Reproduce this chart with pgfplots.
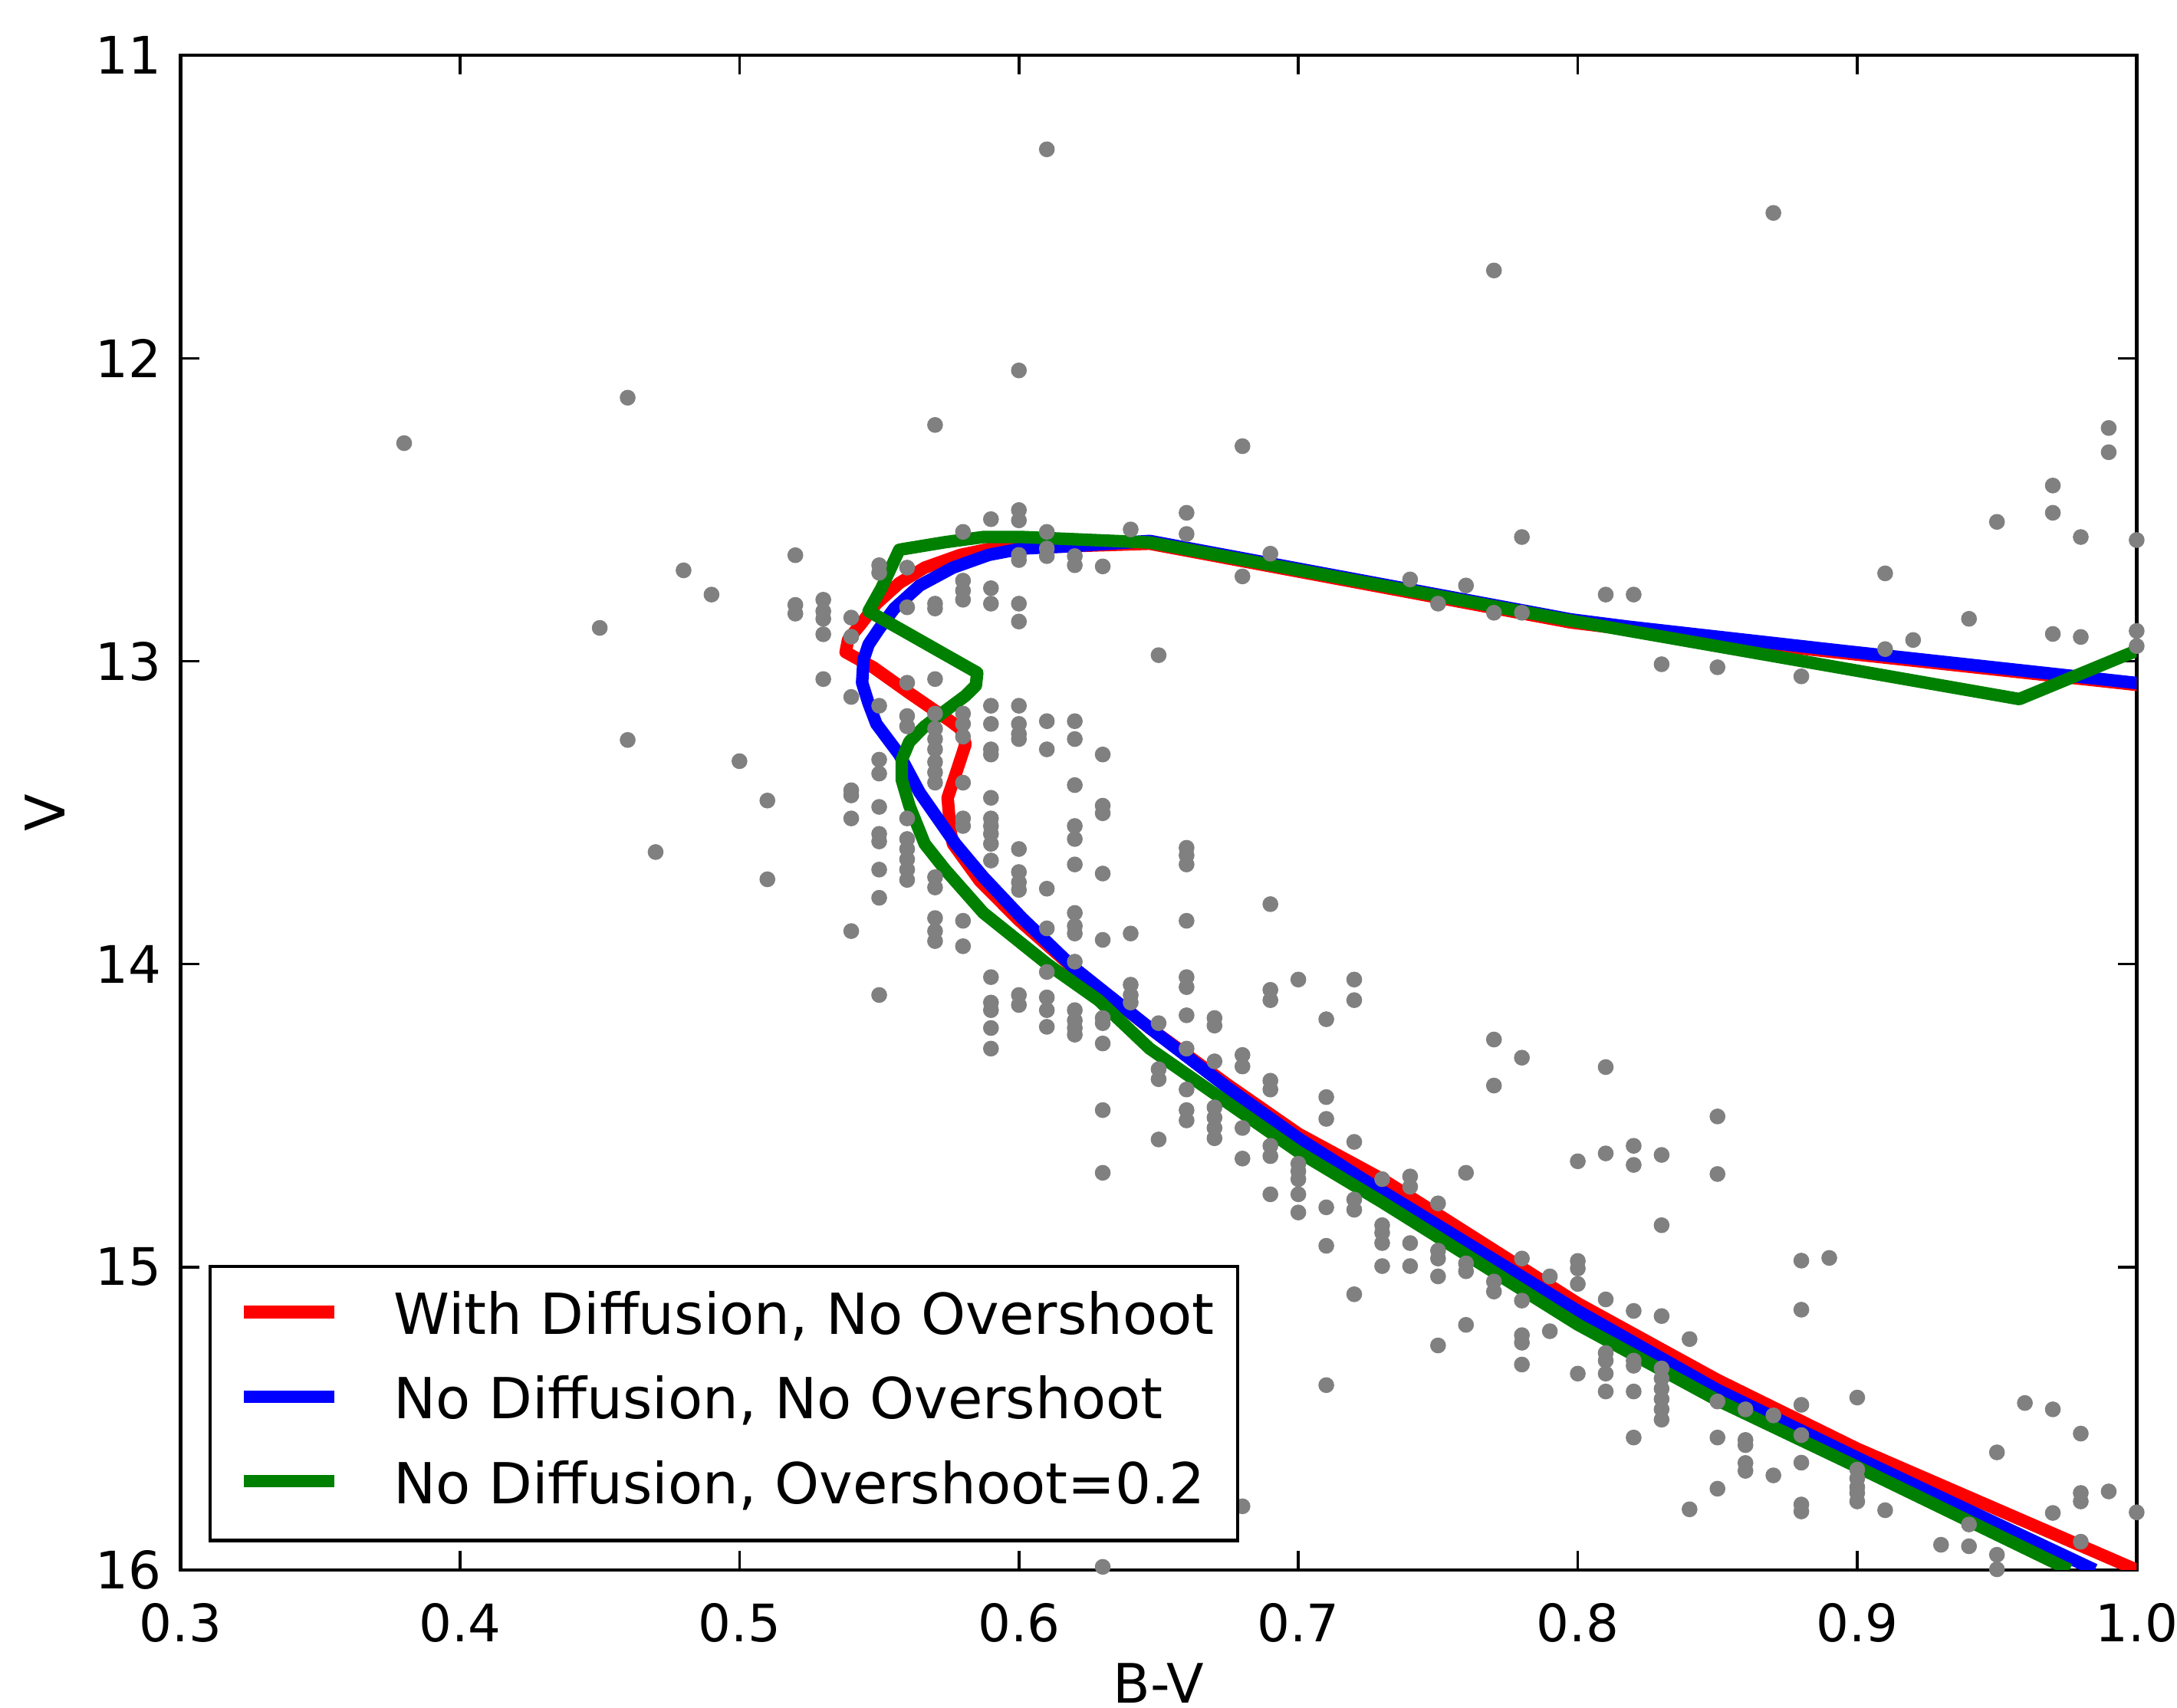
\documentclass[border=0pt]{standalone}
\usepackage{fontspec}
\setmainfont{DejaVu Sans}
\usepackage{pgfplots}
\pgfplotsset{compat=1.18}
\usetikzlibrary{calc}
\definecolor{mred}{RGB}{255,0,0}
\definecolor{mblue}{RGB}{0,0,255}
\definecolor{mgreen}{RGB}{0,128,0}
\definecolor{mgray}{RGB}{128,128,128}

% observed stars (B-V, V)
\pgfplotstableread{
bv v
0.61 11.31
0.87 11.52
0.77 11.71
0.38 12.28
0.46 12.13
0.60 12.04
0.57 12.22
0.68 12.29
0.99 12.23
0.99 12.31
0.97 12.42
0.97 12.51
0.95 12.54
0.98 12.59
1.00 12.60
0.78 12.59
0.66 12.51
0.66 12.58
0.52 12.65
0.48 12.70
0.49 12.78
0.45 12.89
0.91 12.71
0.91 12.96
0.92 12.93
0.94 12.86
0.97 12.91
0.98 12.92
1.00 12.90
1.00 12.95
0.81 12.78
0.82 12.78
0.83 13.01
0.85 13.02
0.88 13.05
0.65 12.98
0.46 13.26
0.50 13.33
0.51 13.46
0.47 13.63
0.51 13.72
0.68 12.72
0.69 12.645
0.74 12.73
0.75 12.81
0.76 12.75
0.77 12.84
0.78 12.84
0.64 12.565
0.52 12.814
0.52 12.843
0.53 12.797
0.53 12.835
0.53 12.860
0.53 12.911
0.53 13.059
0.54 12.856
0.54 12.919
0.54 13.118
0.54 13.426
0.54 13.443
0.54 13.519
0.55 12.683
0.55 12.708
0.55 13.147
0.55 13.325
0.55 13.371
0.55 13.481
0.55 13.570
0.55 13.595
0.56 12.691
0.56 12.822
0.56 13.071
0.56 13.181
0.56 13.215
0.56 13.519
0.56 13.587
0.57 12.810
0.57 12.826
0.57 13.059
0.57 13.173
0.57 13.223
0.57 13.257
0.57 13.291
0.57 13.333
0.57 13.367
0.57 13.401
0.58 12.573
0.58 12.734
0.58 12.767
0.58 12.797
0.58 13.173
0.58 13.207
0.58 13.249
0.58 13.401
0.58 13.519
0.58 13.544
0.59 12.531
0.59 12.759
0.59 12.810
0.59 13.147
0.59 13.207
0.59 13.291
0.59 13.308
0.59 13.451
0.59 13.519
0.59 13.544
0.59 13.570
0.60 12.501
0.60 12.535
0.60 12.649
0.60 12.666
0.60 12.810
0.60 12.869
0.60 13.147
0.60 13.207
0.60 13.240
0.60 13.257
0.61 12.573
0.61 12.628
0.61 12.653
0.61 13.198
0.61 13.291
0.62 12.653
0.62 12.683
0.62 13.198
0.62 13.257
0.62 13.409
0.62 13.544
0.62 13.587
0.63 12.687
0.63 13.308
0.63 13.477
0.63 13.502
0.54 13.891
0.55 13.688
0.55 13.781
0.55 14.102
0.56 13.620
0.56 13.654
0.56 13.688
0.56 13.722
0.57 13.713
0.57 13.747
0.57 13.848
0.57 13.891
0.57 13.924
0.58 13.857
0.58 13.941
0.59 13.603
0.59 13.658
0.59 14.043
0.59 14.127
0.59 14.152
0.59 14.211
0.59 14.279
0.60 13.620
0.60 13.696
0.60 13.730
0.60 13.755
0.60 14.102
0.60 14.135
0.61 13.751
0.61 13.882
0.61 14.026
0.61 14.110
0.61 14.152
0.61 14.207
0.62 13.671
0.62 13.831
0.62 13.874
0.62 13.899
0.62 13.992
0.62 14.152
0.62 14.186
0.62 14.211
0.62 14.233
0.63 13.701
0.63 13.920
0.63 14.178
0.63 14.195
0.63 14.262
0.63 14.482
0.63 14.689
0.64 13.899
0.64 14.068
0.64 14.102
0.64 14.127
0.65 14.195
0.65 14.347
0.65 14.380
0.65 14.579
0.66 13.616
0.66 13.641
0.66 13.671
0.66 13.857
0.66 14.043
0.66 14.076
0.66 14.169
0.66 14.279
0.66 14.414
0.66 14.482
0.66 14.516
0.67 14.178
0.67 14.203
0.67 14.321
0.67 14.473
0.67 14.507
0.67 14.541
0.67 14.575
0.68 14.300
0.68 14.338
0.68 14.541
0.68 14.642
0.69 13.802
0.69 14.085
0.69 14.119
0.69 14.385
0.69 14.414
0.69 14.600
0.69 14.634
0.69 14.760
0.70 14.051
0.70 14.659
0.70 14.684
0.70 14.710
0.70 14.760
0.70 14.820
0.71 14.182
0.71 14.439
0.71 14.511
0.71 14.803
0.72 14.051
0.72 14.119
0.72 14.587
0.72 14.777
0.72 14.811
0.73 14.710
0.77 14.249
0.77 14.401
0.78 14.309
0.73 14.862
0.73 14.887
0.73 14.921
0.73 14.997
0.74 14.701
0.74 14.735
0.74 14.921
0.74 14.997
0.75 14.790
0.75 14.946
0.75 14.972
0.75 15.031
0.75 15.259
0.76 14.689
0.76 14.988
0.76 15.014
0.76 15.191
0.77 15.048
0.77 15.081
0.78 14.972
0.78 15.111
0.78 15.225
0.78 15.250
0.78 15.322
0.79 15.031
0.79 15.212
0.80 14.651
0.80 14.980
0.80 15.005
0.80 15.056
0.80 15.352
0.81 14.340
0.81 14.625
0.81 15.107
0.81 15.284
0.81 15.309
0.81 15.352
0.81 15.411
0.82 14.600
0.82 14.663
0.82 15.145
0.82 15.309
0.82 15.326
0.82 15.411
0.82 15.563
0.83 14.630
0.83 14.862
0.83 15.162
0.83 15.335
0.83 15.368
0.83 15.402
0.83 15.436
0.83 15.470
0.83 15.504
0.84 15.238
0.85 14.503
0.85 14.693
0.85 15.444
0.85 15.563
0.85 15.732
0.86 15.470
0.86 15.571
0.86 15.588
0.86 15.647
0.86 15.673
0.87 15.49
0.87 15.688
0.88 14.979
0.88 15.141
0.88 15.455
0.88 15.555
0.88 15.646
0.88 15.784
0.88 15.807
0.89 14.97
0.90 15.431
0.90 15.669
0.90 15.698
0.90 15.727
0.90 15.746
0.90 15.774
0.91 15.803
0.93 15.917
0.94 15.85
0.94 15.922
0.95 15.612
0.95 15.95
0.95 15.998
0.96 15.449
0.97 15.47
0.97 15.812
0.98 15.55
0.98 15.746
0.98 15.774
0.98 15.907
0.99 15.741
1.00 15.81
0.71 14.93
0.71 15.39
0.72 15.09
0.68 15.79
0.63 15.99
0.84 15.80
}\stars

\begin{document}
\begin{tikzpicture}
\begin{axis}[
  name=ax,
  scale only axis,
  width=359.4pt, height=278.34pt,
  xmin=0.3, xmax=1.0, ymin=11, ymax=16,
  y dir=reverse,
  axis line style={line width=0.6pt},
  xtick={0.3,0.4,0.5,0.6,0.7,0.8,0.9,1.0},
  xticklabels={0.3,0.4,0.5,0.6,0.7,0.8,0.9,1.0},
  ytick={11,12,13,14,15,16},
  yticklabels={11,12,13,14,15,16},
  tick align=inside,
  major tick length=3.5pt,
  tick style={line width=0.5pt, black},
  ticklabel style={font=\fontsize{9.5}{11}\selectfont, inner sep=0pt},
  xticklabel style={yshift=-6pt},
  yticklabel style={xshift=-3.3pt},
  xlabel={B-V}, ylabel={V},
  label style={font=\fontsize{10}{12}\selectfont, inner sep=0pt},
  xlabel style={at={(axis description cs:0.5,0)}, anchor=north, yshift=-17pt},
  ylabel style={at={($(axis description cs:0,0.5)+(-21.06pt,0pt)$)}, anchor=south},
  legend style={
    at={(axis description cs:0,0)}, anchor=south west, xshift=5.1pt, yshift=5.1pt,
    draw=black, line width=0.6pt, fill=white,
    inner xsep=4.3pt, inner ysep=4.5pt,
    row sep=5.25pt, column sep=9.8pt,
    font=\fontsize{10.4}{12}\selectfont,
    nodes={inner sep=0pt, text height=8pt, text depth=2.3pt},
    cells={anchor=base west},
  },
  legend image code/.code={
    \path (-0.8pt,0pt);
    \draw[#1, line width=2.3pt, line cap=butt] (0pt,4.1pt) -- (16.6pt,4.1pt);
  },
]
\addplot[only marks, mark=*, mark size=1.25pt, mgray, mark options={draw=none, fill=mgray}, forget plot] table[x=bv, y=v] {\stars};

% with diffusion, no overshoot
\addplot[mred, line width=2.3pt, line join=round] coordinates {
 (1.000,16.000) (0.900,15.600) (0.850,15.373) (0.800,15.120) (0.730,14.710)
 (0.700,14.560) (0.675,14.400) (0.6468,14.211) (0.619,14.009) (0.600,13.855)
 (0.586,13.725) (0.5764,13.603) (0.5755,13.561) (0.5745,13.451) (0.5773,13.375)
 (0.5809,13.274) (0.5791,13.223) (0.5755,13.198) (0.5608,13.105) (0.5480,13.021)
 (0.5380,12.970) (0.5389,12.928) (0.5435,12.877) (0.5490,12.810) (0.5572,12.742)
 (0.5663,12.691) (0.5791,12.649) (0.5901,12.628) (0.6011,12.626) (0.6193,12.620)
 (0.6468,12.612) (0.7975,12.872) (0.818,12.895) (0.894,12.972) (1.000,13.078)
 (1.030,13.105)
};
\addlegendentry{With Diffusion, No Overshoot}

% no diffusion, no overshoot
\addplot[mblue, line width=2.3pt, line join=round] coordinates {
 (0.985,16.000) (0.900,15.630) (0.850,15.406) (0.800,15.145) (0.730,14.750)
 (0.700,14.575) (0.675,14.410) (0.6468,14.211) (0.6193,14.009) (0.6011,13.848)
 (0.5873,13.713) (0.5773,13.603) (0.5645,13.434) (0.5572,13.308) (0.5490,13.207)
 (0.5462,13.139) (0.5439,13.071) (0.5444,12.995) (0.5462,12.945) (0.5499,12.894)
 (0.5554,12.826) (0.5645,12.750) (0.5764,12.691) (0.5892,12.649) (0.6011,12.628)
 (0.6193,12.620) (0.6468,12.603) (0.7975,12.862) (0.818,12.886) (0.894,12.965)
 (1.000,13.072) (1.030,13.100)
};
\addlegendentry{No Diffusion, No Overshoot}

% no diffusion, overshoot 0.2
\addplot[mgreen, line width=2.3pt, line join=round] coordinates {
 (0.976,16.000) (0.900,15.660) (0.850,15.440) (0.800,15.190) (0.730,14.786)
 (0.700,14.620) (0.6468,14.279) (0.6285,14.119) (0.6102,14.000) (0.5873,13.831)
 (0.5736,13.688) (0.5663,13.603) (0.5608,13.477) (0.5581,13.392) (0.5581,13.325)
 (0.5608,13.266) (0.5663,13.215) (0.5736,13.164) (0.5809,13.114) (0.5846,13.080)
 (0.5851,13.038) (0.5736,12.978) (0.5608,12.911) (0.5462,12.835) (0.5508,12.759)
 (0.5572,12.632) (0.5736,12.607) (0.5873,12.590) (0.6011,12.590) (0.6468,12.608)
 (0.7975,12.866) (0.958,13.125) (1.000,12.965) (1.030,12.850)
};
\addlegendentry{No Diffusion, Overshoot=0.2}
\end{axis}
\pgfresetboundingbox
\path[use as bounding box] ($(ax.south west)+(-33.18pt,-25.25pt)$) rectangle ($(ax.north east)+(7.41pt,10.19pt)$);
\end{tikzpicture}
\end{document}
